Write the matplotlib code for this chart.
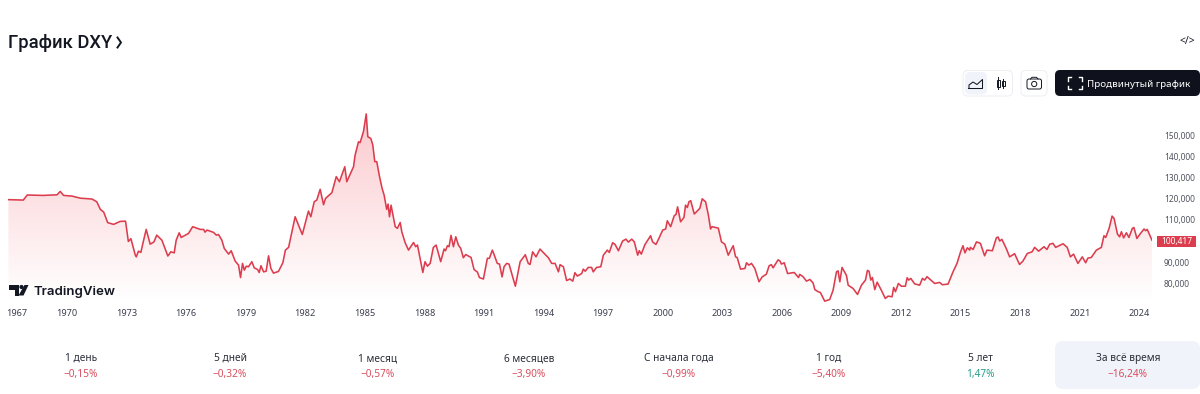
import numpy as np
import matplotlib
matplotlib.use("Agg")
import matplotlib.pyplot as plt
from matplotlib.patches import FancyBboxPatch, Polygon, Rectangle, Circle

plt.rcParams["font.family"] = ["Noto Sans", "DejaVu Sans"]

# значения
years_a = [1967.05,1967.8,1968.0,1968.8,1969.5,1969.66,1969.83,1970.25,1970.67,1971.26,1971.5,1971.68,1971.85,
           1972.05,1972.35,1972.68,1972.95,1973.09,1973.22,1973.44,1973.49,1973.6,1973.72,1973.86,1973.99,
           1974.19,1974.38,1974.52,1974.78,1975.08,1975.23,1975.4,1975.5,1975.65,1975.75,1976.12,1976.33,
           1976.71,1976.88,1976.95,1977.05,1977.38,1977.52,1977.63,1977.8,1977.92,1978.14,1978.27,1978.47,
           1978.64,1978.74,1978.84,1978.93,1979.03,1979.14,1979.31,1979.43,1979.6,1979.68,1979.77,1979.9,
           1980.03,1980.15,1980.27,1980.4,1980.65,1980.87,1981.0,1981.16,1981.49,1981.66,1981.85,1982.16,
           1982.28,1982.45,1982.58,1982.75,1982.92,1983.02,1983.34,1983.56,1983.72,1983.99,1984.09,1984.43,
           1984.51,1984.68,1984.76,1984.93,1985.07,1985.15,1985.3,1985.4,1985.5,1985.6,1985.74,1985.87,
           1985.97,1986.1,1986.17,1986.24,1986.32,1986.53,1986.64,1986.78]
values_a = [119.6,119.4,121.8,121.6,121.9,123.5,121.6,121.3,120.3,119.9,118.6,115.0,113.7,
            108.7,107.9,109.3,109.4,99.8,101.1,93.3,92.5,95.2,94.6,100.4,105.5,
            98.5,99.6,102.8,100.4,92.9,94.9,94.4,100.4,103.9,101.7,103.6,106.8,
            105.5,105.5,104.2,105.2,104.1,102.8,103.1,100.4,96.5,93.8,95.4,90.5,
            88.6,82.7,89.4,86.2,88.1,87.8,90.2,87.3,86.5,85.1,88.3,85.4,
            85.7,93.0,87.0,84.8,85.6,89.7,95.7,97.0,111.5,107.5,103.1,114.2,
            111.5,118.6,119.4,124.5,117.2,120.2,122.9,130.5,128.1,135.2,128.1,135.2,
            140.7,147.0,146.6,151.8,160.2,149.4,148.6,145.5,137.6,137.6,130.5,124.9,
            121.8,115.0,117.5,111.5,117.0,106.8,106.0,108.8]

years_b = [1986.86,1987.03,1987.2,1987.45,1987.56,1987.65,1987.92,1988.03,1988.15,1988.29,1988.45,1988.59,
           1988.82,1988.99,1989.06,1989.16,1989.24,1989.34,1989.46,1989.58,1989.71,1989.83,1989.96,1990.08,
           1990.35,1990.5,1990.67,1990.77,1990.97,1991.17,1991.27,1991.42,1991.52,1991.67,1991.78,1991.91,
           1992.01,1992.14,1992.26,1992.58,1992.82,1992.98,1993.08,1993.23,1993.32,1993.45,1993.62,1993.82,
           1994.24,1994.41,1994.58,1994.75,1994.83,1995.0,1995.16,1995.33,1995.47,1995.58,1995.7,1995.92,
           1996.0,1996.1,1996.25,1996.42,1996.5,1996.67,1996.88,1997.01,1997.21,1997.31,1997.48,1997.6,
           1997.77,1997.98,1998.15,1998.27,1998.44,1998.57,1998.74,1998.82,1998.92,1999.11,1999.39,1999.49,
           1999.66,1999.83,2000.0,2000.15,2000.23,2000.4,2000.58,2000.67,2000.75,2000.9,2001.07,2001.15,
           2001.24,2001.32,2001.41,2001.59,2001.87,2001.99,2002.16,2002.3,2002.41,2002.48,2002.8,2002.96,
           2003.13,2003.3,2003.55,2003.67,2003.75,2003.92,2004.14,2004.22,2004.34,2004.47,2004.64,2004.85,
           2005.01,2005.22,2005.36,2005.47,2005.56,2005.81,2005.9,2005.98,2006.12,2006.29,2006.62,2006.84]
values_b = [104.4,99.2,95.7,99.3,97.3,98.1,85.1,90.2,88.1,89.4,97.0,98.1,
            90.2,96.2,95.4,97.8,97.3,102.7,97.3,102.0,98.1,96.5,92.1,93.6,
            92.2,86.5,85.3,82.7,82.0,91.8,91.8,95.7,93.3,89.4,89.1,83.0,
            87.8,89.4,89.1,78.6,90.2,92.2,93.5,89.4,88.9,94.9,92.5,96.2,
            92.1,89.4,89.4,85.4,88.8,87.8,81.3,82.0,81.0,85.0,83.4,84.6,
            86.7,85.7,87.5,87.5,85.4,87.5,87.8,93.3,95.7,94.6,99.2,98.4,
            95.4,100.0,100.9,99.5,100.9,99.6,93.3,95.4,93.8,98.4,102.5,99.6,
            98.4,101.7,105.2,105.7,109.6,106.8,112.0,112.6,116.2,109.1,111.2,117.0,
            115.9,118.6,119.1,112.8,115.5,120.0,118.6,112.3,105.7,106.8,106.1,99.6,
            98.5,93.3,97.8,92.5,92.2,86.7,87.0,89.7,88.6,89.4,87.0,80.7,
            83.0,84.3,88.3,88.8,87.3,91.1,90.6,89.1,89.7,84.6,85.1,82.7]

years_c = [2006.9,2007.07,2007.24,2007.41,2007.57,2007.66,2007.83,2007.94,2008.16,2008.41,2008.58,2008.75,
           2008.83,2008.92,2009.03,2009.25,2009.34,2009.59,2009.81,2010.01,2010.21,2010.31,2010.39,2010.48,
           2010.56,2010.68,2010.8,2011.01,2011.21,2011.35,2011.55,2011.63,2011.72,2011.87,2012.02,2012.22,
           2012.31,2012.39,2012.49,2012.69,2012.94,2013.08,2013.19,2013.31,2013.53,2013.7,2013.95,2014.08,
           2014.37,2014.62,2014.82,2014.99,2015.12,2015.22,2015.34,2015.46,2015.49,2015.63,2015.8,2016.0,
           2016.21,2016.33,2016.6,2016.8,2016.89,2016.97,2017.08,2017.3,2017.47,2017.72,2017.97,2018.14,
           2018.36,2018.6,2018.73,2018.93,2019.2,2019.35,2019.49,2019.65,2019.79,2020.16,2020.37,2020.53,
           2020.69,2020.91,2021.13,2021.3,2021.41,2021.58,2021.84,2022.09,2022.22,2022.31,2022.48,2022.63,
           2022.73,2022.9,2023.01,2023.1,2023.21,2023.35,2023.48,2023.65,2023.73,2023.88,2024.02,2024.24,
           2024.32,2024.4,2024.64]
values_c = [84.2,83.1,81.0,81.8,80.2,77.0,76.0,75.6,71.5,72.3,76.7,85.4,
            85.9,80.7,87.5,83.8,79.1,77.5,74.7,79.1,81.5,86.1,85.7,81.5,
            82.7,77.0,80.5,76.7,72.8,73.9,73.6,78.0,76.0,79.9,78.6,78.6,
            82.6,81.5,82.3,79.7,79.1,82.3,81.5,83.1,81.3,79.9,80.4,79.3,
            79.6,85.4,89.4,94.6,97.8,94.4,96.8,95.7,97.0,96.0,99.6,98.9,
            93.0,95.7,95.4,101.5,101.9,100.0,100.8,96.5,92.5,94.0,88.9,90.5,
            94.1,94.9,97.0,95.2,97.3,96.0,98.5,98.9,97.0,98.7,97.0,92.5,
            93.8,89.4,92.5,89.7,91.9,92.2,95.7,97.0,102.5,101.7,106.0,111.8,
            110.7,103.3,102.0,104.4,101.5,103.9,101.7,106.0,106.4,101.2,103.1,105.7,
            104.9,105.5,100.417]

tick_years = [1970,1973,1976,1979,1982,1985,1988,1991,1994,1997,2000,2003,2006,2009,2012,2015,2018,2021,2024]
price_ticks = [80,90,110,120,130,140,150]
price_labels = ["80,000","90,000","110,000","120,000","130,000","140,000","150,000"]
last_price = "100,417"

periods = ["1 день","5 дней","1 месяц","6 месяцев","С начала года","1 год","5 лет","За всё время"]
changes = ["−0,15%","−0,32%","−0,57%","−3,90%","−0,99%","−5,40%","1,47%","−16,24%"]
change_colors = ["#d9505f"]*6 + ["#2a9d8a"] + ["#d9505f"]
period_x = [81,230,378,529,679,829,980,1128]

RED = "#dc3d4e"
INK = "#131722"
W, H = 1200, 394

years = np.array(years_a + years_b + years_c)
values = np.array(values_a + values_b + values_c)

fig = plt.figure(figsize=(12, 3.94), dpi=100, facecolor="white")

# подложка в пикселях для кнопок и подписей
ui = fig.add_axes([0, 0, 1, 1], zorder=3)
ui.set_xlim(0, W)
ui.set_ylim(H, 0)
ui.axis("off")
ui.patch.set_alpha(0)

# основной график
px_left, px_right, px_top, px_bot = 8, 1152, 100, 305
ax = fig.add_axes([px_left/W, 1-px_bot/H, (px_right-px_left)/W, (px_bot-px_top)/H], zorder=2)
ax.patch.set_alpha(0)
for s in ax.spines.values():
    s.set_visible(False)

ax.plot(years, values, color=RED, lw=1.15, solid_joinstyle="round", zorder=3)

# градиент под линией
grad = np.zeros((256, 2, 4))
grad[..., 0] = 0.95
grad[..., 1] = 0.21
grad[..., 2] = 0.27
alpha = np.linspace(0.27, 0.0, 256)
grad[:, 0, 3] = alpha
grad[:, 1, 3] = alpha
im = ax.imshow(grad, extent=[1967.03, 2024.64, 71.0, 160.2], aspect="auto", origin="upper", zorder=1)
poly = Polygon(np.column_stack([np.r_[years[0], years, years[-1]], np.r_[69.7, values, 69.7]]),
               closed=True, transform=ax.transData, fc="none", ec="none")
ax.add_patch(poly)
im.set_clip_path(poly)
ax.set_xlim(1967.03, 2024.64)
ax.set_ylim(69.7, 166.8)

ax.set_xticks([1967.45] + tick_years)
ax.set_xticklabels(["1967"] + [str(y) for y in tick_years], fontsize=6.6, color="#3a3e4c")
ax.tick_params(axis="x", length=0, pad=3)
ax.yaxis.tick_right()
ax.set_yticks(price_ticks)
ax.set_yticklabels(price_labels, fontsize=6.0, color="#50535e")
ax.tick_params(axis="y", length=0, pad=8.5)

# метка текущей цены
ui.add_patch(Rectangle((1157, 236), 39, 10.5, fc=RED, ec="none"))
ui.text(1176.5, 241.3, last_price, color="white", fontsize=6.0, ha="center", va="center", fontweight="bold")

# заголовок
ui.text(8, 48, "График DXY", fontsize=13.2, fontweight="medium", family="Roboto", color=INK, ha="left", va="baseline")
ui.plot([117.5, 121, 117.5], [37.5, 42.5, 47.5], color=INK, lw=1.4)
ui.text(1187, 41, "</>", fontsize=7.5, color=INK, ha="center", va="center")

# кнопки
def box(x, y, w, h, fc, ec="none", r=5):
    ui.add_patch(FancyBboxPatch((x+r, y+r), w-2*r, h-2*r, boxstyle="round,pad=%d,rounding_size=%d" % (r, r),
                                fc=fc, ec=ec, lw=0.7))

box(963, 70.5, 49.5, 25.5, "white", "#eceef2")
box(965, 72, 22, 22.5, "#f0f3fa")
box(1021, 70.5, 26, 25.5, "white", "#eceef2")
box(1055, 70, 145, 26, "#0f121c")

ui.plot([969, 969, 973, 977, 982.5, 982.5, 969], [88.5, 85, 82, 84.5, 79.5, 88.5, 88.5], color=INK, lw=0.75)
ui.plot([998, 998], [77, 89], color=INK, lw=0.7)
ui.plot([1003, 1003], [79, 87.5], color=INK, lw=0.7)
ui.add_patch(Rectangle((996.5, 79.5), 3, 7.5, fc="white", ec=INK, lw=0.7))
ui.add_patch(Rectangle((1001.5, 81), 3, 4.5, fc="white", ec=INK, lw=0.7))
box(1027, 79, 14.5, 10, "white", INK, r=2)
ui.add_patch(Circle((1034.2, 84), 2.6, fc="none", ec=INK, lw=0.7))
ui.plot([1030.5, 1032, 1036.5, 1038], [79, 77.3, 77.3, 79], color=INK, lw=0.7)

# рамка на кнопке
ui.plot([1071, 1068, 1068], [77, 77, 80.5], color="white", lw=1.0)
ui.plot([1079, 1082, 1082], [77, 77, 80.5], color="white", lw=1.0)
ui.plot([1071, 1068, 1068], [89, 89, 85.5], color="white", lw=1.0)
ui.plot([1079, 1082, 1082], [89, 89, 85.5], color="white", lw=1.0)
ui.text(1087, 87, "Продвинутый график", color="white", fontsize=7.0, ha="left", va="baseline")

# логотип TradingView
ui.add_patch(Polygon([(9, 285), (19, 285), (19, 295.5), (14.5, 295.5), (14.5, 289.5), (9, 289.5)], fc=INK, ec="none"))
ui.add_patch(Circle((21.5, 287), 2.1, fc=INK, ec="none"))
ui.add_patch(Polygon([(24.5, 285), (28.5, 285), (23.5, 295.5), (18.5, 295.5)], fc=INK, ec="none"))
ui.text(33, 295, "TradingView", fontsize=9.5, fontweight="semibold", family="Inter", color=INK, ha="left", va="baseline")

# блок изменений
box(1055, 341, 145, 48, "#f0f3fa", r=8)
for x, p, c, col in zip(period_x, periods, changes, change_colors):
    ui.text(x, 361, p, fontsize=7.3, color="#2a2e39", ha="center", va="baseline")
    ui.text(x, 377, c, fontsize=7.3, color=col, ha="center", va="baseline")

fig.savefig("out.png", dpi=100)
